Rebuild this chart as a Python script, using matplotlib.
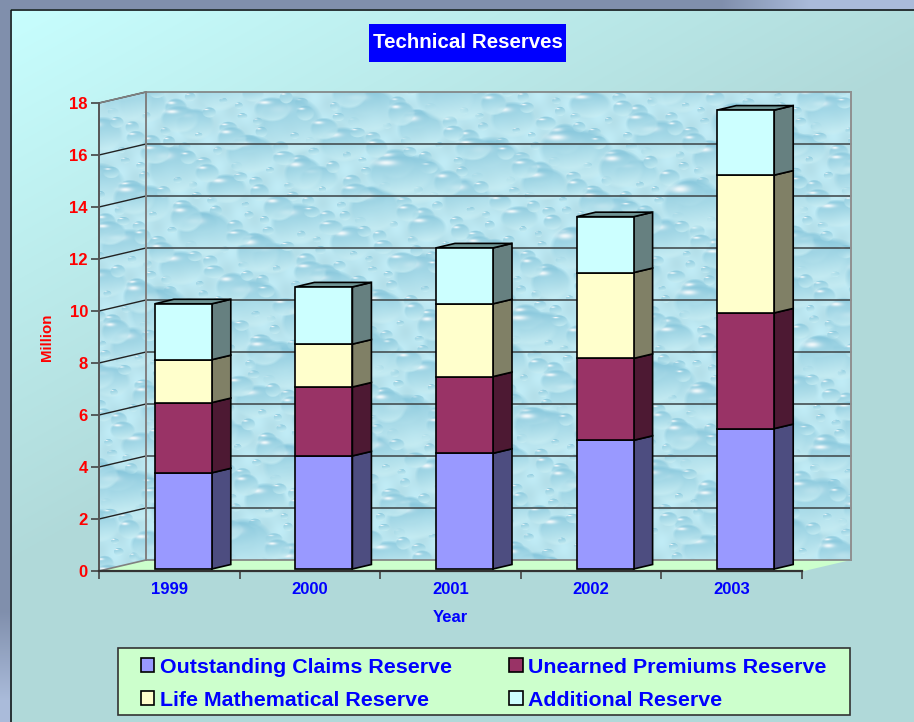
import numpy as np
import matplotlib
matplotlib.use("Agg")
import matplotlib.pyplot as plt
from matplotlib.patches import Patch, Polygon, Rectangle

years = ["1999", "2000", "2001", "2002", "2003"]
outstanding = [3.7, 4.35, 4.45, 4.95, 5.4]
unearned = [2.7, 2.65, 2.95, 3.15, 4.45]
life = [1.65, 1.65, 2.8, 3.3, 5.3]
additional = [2.15, 2.2, 2.15, 2.15, 2.5]
y_ticks = list(range(0, 19, 2))

series = [outstanding, unearned, life, additional]
names = ["Outstanding Claims Reserve", "Unearned Premiums Reserve",
         "Life Mathematical Reserve", "Additional Reserve"]
fronts = ["#9999ff", "#993366", "#ffffcc", "#ccffff"]
sides = ["#4d4d80", "#4d1933", "#808066", "#668080"]
top_col = "#6f9595"

W, H = 914, 722
plt.rcParams["font.family"] = ["Liberation Sans", "DejaVu Sans"]
plt.rcParams["font.weight"] = "bold"

# plot area, in pixels of the picture
L, R, T, B = 99, 802, 103, 571
WALL_DX, WALL_DY = 47, 11


def make_background():
    yy, xx = np.mgrid[0:H, 0:W]
    t = np.clip((xx / W * 0.7 + yy / H * 1.0) * 1.25, 0, 1)[..., None]
    a = np.array([200, 255, 255]) / 255
    b = np.array([176, 217, 217]) / 255
    img = a + (b - a) * t
    # slate strip on the top and left, it gets paler towards the far ends
    c0 = np.array([128, 143, 172]) / 255
    c1 = np.array([170, 187, 218]) / 255
    top = np.clip((xx - 720) / 90, 0, 1)[..., None]
    left = np.clip((yy - 610) / 90, 0, 1)[..., None]
    strip_top = c0 + (c1 - c0) * top
    strip_left = c0 + (c1 - c0) * left
    img = np.where(xx[..., None] < 10, strip_left, img)
    img = np.where(yy[..., None] < 9, strip_top, img)
    return img


def make_texture():
    # droplets placed with a low discrepancy sequence
    yy, xx = np.mgrid[0:H, 0:W]
    img = np.zeros((H, W, 3))
    img[...] = (0.73, 0.90, 0.94)
    img += 0.012 * (np.sin(xx / 7.0 + yy / 5.0) + np.sin(yy / 9.0 - xx / 4.0))[..., None]
    light = np.array([0.80, 0.94, 0.96])
    dark = np.array([0.50, 0.76, 0.85])
    for k in range(1, 1100):
        cx = 90 + 780 * ((k * 0.7548777) % 1)
        cy = 85 + 490 * ((k * 0.5698403) % 1)
        s = (k * 0.4142136) % 1
        rx = 4 + 24 * s ** 5 + 6 * s
        ry = rx * (0.62 + 0.3 * ((k * 0.2360680) % 1))
        x0, x1 = int(cx - rx - 1), int(cx + rx + 2)
        y0, y1 = int(cy - ry - 1), int(cy + ry + 2)
        u = (xx[y0:y1, x0:x1] - cx) / rx
        v = (yy[y0:y1, x0:x1] - cy) / ry
        r2 = u ** 2 + v ** 2
        g = np.clip((v + 0.2 * u + 1) / 2, 0, 1)[..., None]
        col = dark + (light - dark) * g
        alpha = np.clip((1 - r2) * 3, 0, 1)[..., None] * 0.8
        img[y0:y1, x0:x1] = img[y0:y1, x0:x1] * (1 - alpha) + col * alpha
        hl = np.exp(-(((u + 0.4) / 0.32) ** 2 + ((v + 0.55) / 0.14) ** 2))[..., None] * 0.85
        img[y0:y1, x0:x1] = img[y0:y1, x0:x1] * (1 - hl) + hl
    return np.clip(img, 0, 1)


fig = plt.figure(figsize=(W / 100, H / 100), dpi=100)

# backdrop in pixel coordinates
bg = fig.add_axes([0, 0, 1, 1], zorder=0)
bg.axis("off")
bg.imshow(make_background(), extent=(0, W, H, 0), aspect="auto", interpolation="bilinear")
bg.plot([10.5, 10.5, W], [H, 9.5, 9.5], color="#101418", lw=1.2)

wall = Polygon([(L, B), (L + WALL_DX, B - WALL_DY), (R + WALL_DX + 2, B - WALL_DY),
                (R + WALL_DX + 2, T - WALL_DY), (L + WALL_DX, T - WALL_DY), (L, T)],
               transform=bg.transData, fc="none", ec="none")
bg.add_patch(wall)
tex = bg.imshow(make_texture(), extent=(0, W, H, 0), aspect="auto", interpolation="bilinear")
tex.set_clip_path(wall)
bg.set_xlim(0, W)
bg.set_ylim(H, 0)

# main axes: front plane of the 3d box
ax = fig.add_axes([L / W, 1 - B / H, (R - L) / W, (B - T) / H], zorder=1)
ax.patch.set_alpha(0)
ax.set_xlim(-0.5, 4.5)
ax.set_ylim(0, 18)
px = 5 / (R - L)
py = 18 / (B - T)
wdx, wdy = WALL_DX * px, WALL_DY * py
x_back = 4.5 + wdx + 2 * px

# floor
ax.fill([-0.5, -0.5 + wdx, x_back, 4.5 + 2 * px], [0, wdy, wdy, 0], fc="#ccffcc", ec="none",
        clip_on=False, zorder=1)

# walls and grid
for v in y_ticks:
    if v > 0:
        ax.plot([-0.5, -0.5 + wdx], [v, v + wdy], color="#222222", lw=1.0, clip_on=False, zorder=2)
    col = "#808080" if v in (0, 18) else "#454f52"
    ax.plot([-0.5 + wdx, x_back], [v + wdy, v + wdy], color=col, lw=1.2, clip_on=False, zorder=2)
ax.plot([-0.5, -0.5 + wdx], [18, 18 + wdy], color="#808080", lw=1.2, clip_on=False, zorder=2)
ax.plot([-0.5, -0.5 + wdx], [0, wdy], color="#808080", lw=1.2, clip_on=False, zorder=2)
ax.plot([-0.5 + wdx] * 2, [wdy, 18 + wdy], color="#808080", lw=1.4, clip_on=False, zorder=2)
ax.plot([x_back] * 2, [wdy, 18 + wdy], color="#909090", lw=1.4, clip_on=False, zorder=2)

# stacked bars with their side and top faces
x = np.arange(len(years))
bar_w = 57 * px
off_x, off_y = 14 * px, 2 * py
side_x, side_y = 19 * px, 4.5 * py
bottoms = np.zeros(len(years))
for vals, fc, sc in zip(series, fronts, sides):
    vals = np.array(vals)
    ax.bar(x + off_x, vals, bar_w, bottom=bottoms + off_y, color=fc, edgecolor="black",
           linewidth=1.2, zorder=4, clip_on=False)
    for xi, b0, v in zip(x, bottoms, vals):
        xr = xi + off_x + bar_w / 2
        ax.fill([xr, xr + side_x, xr + side_x, xr],
                [b0 + off_y, b0 + off_y + side_y, b0 + v + off_y + side_y, b0 + v + off_y],
                fc=sc, ec="black", lw=1.2, zorder=3, clip_on=False)
    bottoms = bottoms + vals
for xi, top in zip(x, bottoms):
    xl = xi + off_x - bar_w / 2
    xr = xl + bar_w
    t = top + off_y
    ax.fill([xl, xr, xr + side_x, xl + side_x], [t, t, t + side_y, t + side_y],
            fc=top_col, ec="black", lw=1.2, zorder=3, clip_on=False)

# axes, ticks, labels
for s in ("top", "right"):
    ax.spines[s].set_visible(False)
ax.spines["left"].set_color("#555555")
ax.spines["left"].set_linewidth(1.4)
ax.spines["bottom"].set_color("#333333")
ax.spines["bottom"].set_linewidth(1.6)
ax.spines["left"].set_zorder(2)
ax.set_yticks(y_ticks)
ax.tick_params(axis="y", length=6, width=1.2, color="#444444", labelcolor="#ff0000",
               labelsize=12, pad=2)
ax.set_xticks(np.arange(-0.5, 5, 1))
ax.set_xticklabels([])
ax.tick_params(axis="x", which="major", length=6, width=1.2, color="#444444")
ax.set_xticks(x, labels=years, minor=True)
ax.tick_params(axis="x", which="minor", length=0, labelcolor="#0000ff", labelsize=12, pad=8)

fig.text(46.5 / W, 1 - 337 / H, "Million", color="#ff0000", fontsize=10.8, rotation=90,
         ha="center", va="center")
fig.text(450 / W, 1 - 618 / H, "Year", color="#0000ff", fontsize=12, ha="center", va="center")

fig.add_artist(Rectangle((369 / W, 1 - 62 / H), 197 / W, 38 / H, transform=fig.transFigure,
                         fc="#0000ff", ec="none"))
fig.text(467.5 / W, 1 - 43 / H, "Technical Reserves", color="white", fontsize=14.8,
         ha="center", va="center")

# legend frame is drawn by hand so the columns can sit where they should
fig.add_artist(Rectangle((117.5 / W, 1 - 715 / H), 733 / W, 67 / H, transform=fig.transFigure,
                         fc="#ccffcc", ec="#333333", lw=1.2))
# column-first legend, so the handles go 1,3 then 2,4
order = [0, 2, 1, 3]
handles = [Patch(fc=fronts[i], ec="black", lw=1.2, label=names[i]) for i in order]
leg = fig.legend(handles=handles, ncol=2, loc="lower left",
                 bbox_to_anchor=(141 / W, 1 - 710 / H),
                 fontsize=15.4, labelcolor="#0000ff", frameon=False,
                 handlelength=0.63, handleheight=0.63, handletextpad=0.26,
                 borderaxespad=0, borderpad=0, labelspacing=0.66, columnspacing=2.68)

fig.savefig("out.png", dpi=100)
